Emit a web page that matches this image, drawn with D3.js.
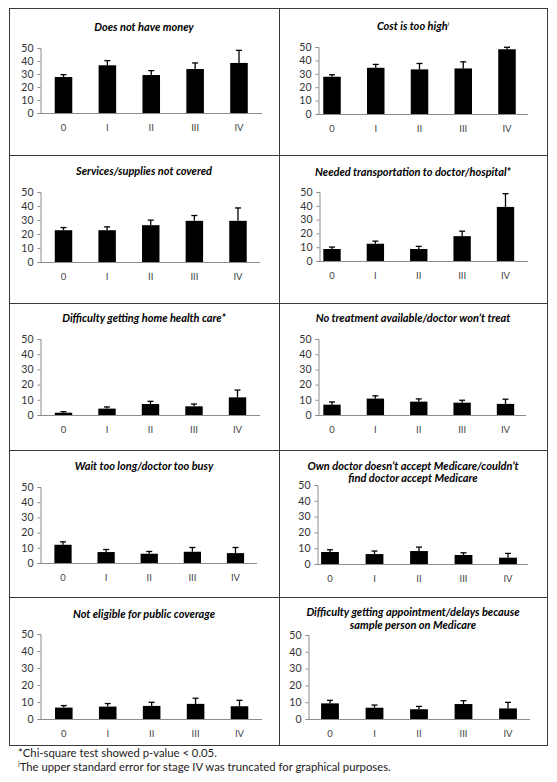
<!DOCTYPE html>
<html>
<head>
<meta charset="utf-8">
<script src="https://cdn.jsdelivr.net/npm/d3@7"></script>
<style>
  html, body { margin: 0; padding: 0; background: #fff; }
  svg { display: block; }
</style>
</head>
<body>
<svg id="chart" width="557" height="782"></svg>
<script>
// ---------- DATA ----------
const stages = ["0", "I", "II", "III", "IV"];
const yTicks = [0, 10, 20, 30, 40, 50];

const titles = [
  ["Does not have money"],
  ["Cost is too high", "i"],
  ["Services/supplies not covered"],
  ["Needed transportation to doctor/hospital*"],
  ["Difficulty getting home health care*"],
  ["No treatment available/doctor won\u2019t treat"],
  ["Wait too long/doctor too busy"],
  ["Own doctor doesn\u2019t accept Medicare/couldn\u2019t", "find doctor accept Medicare"],
  ["Not eligible for public coverage"],
  ["Difficulty getting appointment/delays because", "sample person on Medicare"]
];
const supTitle = [false, true, false, false, false, false, false, false, false, false];

const noMoney        = [27.7, 36.7, 29.2, 33.8, 38.5];
const noMoneyErr     = [29.5, 40.3, 32.6, 38.5, 48.2];
const costHigh       = [27.8, 34.5, 33.3, 34.0, 48.3];
const costHighErr    = [29.3, 37.0, 37.7, 38.9, 49.8];
const notCovered     = [22.7, 22.7, 26.3, 29.4, 29.4];
const notCoveredErr  = [24.6, 25.1, 29.9, 33.2, 38.6];
const transport      = [8.7, 12.5, 8.7, 18.0, 39.2];
const transportErr   = [10.1, 14.4, 10.6, 21.6, 48.8];
const homeHealth     = [1.5, 4.2, 7.2, 5.7, 11.6];
const homeHealthErr  = [2.2, 5.3, 9.0, 7.2, 16.4];
const noTreatment    = [6.8, 10.8, 8.8, 8.1, 7.3];
const noTreatmentErr = [8.6, 12.6, 10.6, 9.7, 10.4];
const waitLong       = [12.0, 7.2, 6.1, 7.4, 6.5];
const waitLongErr    = [13.9, 8.9, 7.6, 10.2, 10.2];
const noMedicareDoc  = [7.6, 6.3, 8.2, 5.7, 4.0];
const noMedicareDocErr = [9.0, 8.2, 10.7, 7.1, 6.7];
const notEligible    = [6.7, 7.3, 7.7, 8.9, 7.5];
const notEligibleErr = [7.9, 9.1, 9.8, 12.2, 11.0];
const appointment    = [9.3, 6.7, 5.8, 8.9, 6.3];
const appointmentErr = [11.1, 8.3, 7.5, 10.9, 9.9];

const values = [noMoney, costHigh, notCovered, transport, homeHealth,
                noTreatment, waitLong, noMedicareDoc, notEligible, appointment];
const upperErr = [noMoneyErr, costHighErr, notCoveredErr, transportErr, homeHealthErr,
                  noTreatmentErr, waitLongErr, noMedicareDocErr, notEligibleErr, appointmentErr];

const footnotes = [
  ["", "*Chi-square test showed p-value < 0.05."],
  ["i", "The upper standard error for stage IV was truncated for graphical purposes."]
];

// ---------- LAYOUT (positions only) ----------
const rowEdges = [8, 155, 303, 450, 597, 745];
const colEdges = [9, 279, 547];
const layout = [
  {ax: 40,  c0: 63.5, c4: 239,   xe: 262, yt: 48,  yb: 113, ty: [31]},
  {ax: 318, c0: 332,  c4: 507,   xe: 528, yt: 47,  yb: 114, ty: [30]},
  {ax: 40,  c0: 63.5, c4: 238,   xe: 260, yt: 192, yb: 262, ty: [175]},
  {ax: 319, c0: 332,  c4: 505.5, xe: 528, yt: 192, yb: 261, ty: [176]},
  {ax: 40,  c0: 63.5, c4: 237.5, xe: 260, yt: 339, yb: 415, ty: [322]},
  {ax: 318, c0: 332,  c4: 505.5, xe: 526, yt: 339, yb: 415, ty: [322]},
  {ax: 40,  c0: 63,   c4: 235.5, xe: 257, yt: 487, yb: 563, ty: [470]},
  {ax: 317, c0: 330,  c4: 508,   xe: 528, yt: 485, yb: 564, ty: [470, 482]},
  {ax: 40,  c0: 63.8, c4: 239.5, xe: 262, yt: 634, yb: 719, ty: [618]},
  {ax: 308, c0: 330,  c4: 508,   xe: 530, yt: 635, yb: 719, ty: [616, 629]}
];

const FONT = "Lato, 'Open Sans', 'DejaVu Sans', sans-serif";
const svg = d3.select("#chart");

const g0 = svg.append("g").attr("stroke", "#3a3a3a").attr("stroke-width", 1).attr("fill", "none");
g0.append("rect").attr("x", colEdges[0] + 0.5).attr("y", rowEdges[0] + 0.5)
  .attr("width", colEdges[2] - colEdges[0]).attr("height", rowEdges[5] - rowEdges[0]);
g0.append("line").attr("x1", colEdges[1] + 0.5).attr("x2", colEdges[1] + 0.5)
  .attr("y1", rowEdges[0]).attr("y2", rowEdges[5]);
rowEdges.slice(1, 5).forEach(y => {
  g0.append("line").attr("x1", colEdges[0]).attr("x2", colEdges[2])
    .attr("y1", y + 0.5).attr("y2", y + 0.5);
});

values.forEach((vals, i) => {
  const L = layout[i];
  const col = i % 2;
  const cx = (colEdges[col] + colEdges[col + 1]) / 2;
  const step = (L.c4 - L.c0) / 4;
  const x = d3.scaleBand().domain(stages)
    .range([L.c0 - step / 2, L.c4 + step / 2])
    .paddingInner(0.6).paddingOuter(0.3);
  const y = d3.scaleLinear().domain([0, 50]).range([L.yb, L.yt]);
  const g = svg.append("g");

  const t = titles[i];
  if (supTitle[i]) {
    const tt = g.append("text").attr("x", cx).attr("y", L.ty[0])
      .attr("text-anchor", "middle").attr("font-family", FONT)
      .attr("font-size", 11).attr("font-weight", "bold").attr("font-style", "italic");
    tt.append("tspan").text(t[0]);
    tt.append("tspan").attr("font-size", 6).attr("dy", -4).attr("font-weight", "normal").text(t[1]);
  } else {
    t.forEach((line, k) => {
      g.append("text").attr("x", cx).attr("y", L.ty[k])
        .attr("text-anchor", "middle").attr("font-family", FONT)
        .attr("font-size", 11).attr("font-weight", "bold").attr("font-style", "italic")
        .text(line);
    });
  }

  const yAxis = d3.axisLeft(y).tickValues(yTicks).tickSize(3).tickPadding(4);
  const ya = g.append("g").attr("transform", `translate(${L.ax + 0.5},0)`).call(yAxis);
  ya.select(".domain").attr("stroke", "#8c8c8c");
  ya.selectAll(".tick line").attr("stroke", "#8c8c8c");
  ya.selectAll(".tick text").attr("font-family", FONT).attr("font-size", 10.5).attr("fill", "#333");

  g.append("line").attr("x1", L.ax).attr("x2", L.xe)
    .attr("y1", L.yb + 0.5).attr("y2", L.yb + 0.5).attr("stroke", "#8c8c8c");

  g.selectAll(".cat").data(stages).join("text")
    .attr("x", d => x(d) + x.bandwidth() / 2)
    .attr("y", L.yb + 18)
    .attr("text-anchor", "middle").attr("font-family", FONT)
    .attr("font-size", 9.5).attr("fill", "#444")
    .text(d => d);

  const errs = upperErr[i];
  g.selectAll(".err").data(stages).join("line")
    .attr("x1", d => x(d) + x.bandwidth() / 2).attr("x2", d => x(d) + x.bandwidth() / 2)
    .attr("y1", (d, j) => y(vals[j])).attr("y2", (d, j) => y(errs[j]))
    .attr("stroke", "#000").attr("stroke-width", 1.3);
  g.selectAll(".cap").data(stages).join("line")
    .attr("x1", d => x(d) + x.bandwidth() / 2 - 3).attr("x2", d => x(d) + x.bandwidth() / 2 + 3)
    .attr("y1", (d, j) => y(errs[j])).attr("y2", (d, j) => y(errs[j]))
    .attr("stroke", "#000").attr("stroke-width", 1.3);

  g.selectAll(".bar").data(stages).join("rect")
    .attr("x", d => x(d)).attr("width", x.bandwidth())
    .attr("y", (d, j) => y(vals[j])).attr("height", (d, j) => y(0) - y(vals[j]))
    .attr("fill", "#000");
});

const fy = [757, 771];
footnotes.forEach((f, k) => {
  const tx = svg.append("text").attr("x", 18).attr("y", fy[k])
    .attr("font-family", FONT).attr("font-size", 11.3).attr("fill", "#222");
  if (f[0]) {
    tx.append("tspan").attr("font-size", 7).attr("dy", -4).text(f[0]);
    tx.append("tspan").attr("dy", 4).text(f[1]);
  } else {
    tx.text(f[1]);
  }
});
</script>
</body>
</html>
